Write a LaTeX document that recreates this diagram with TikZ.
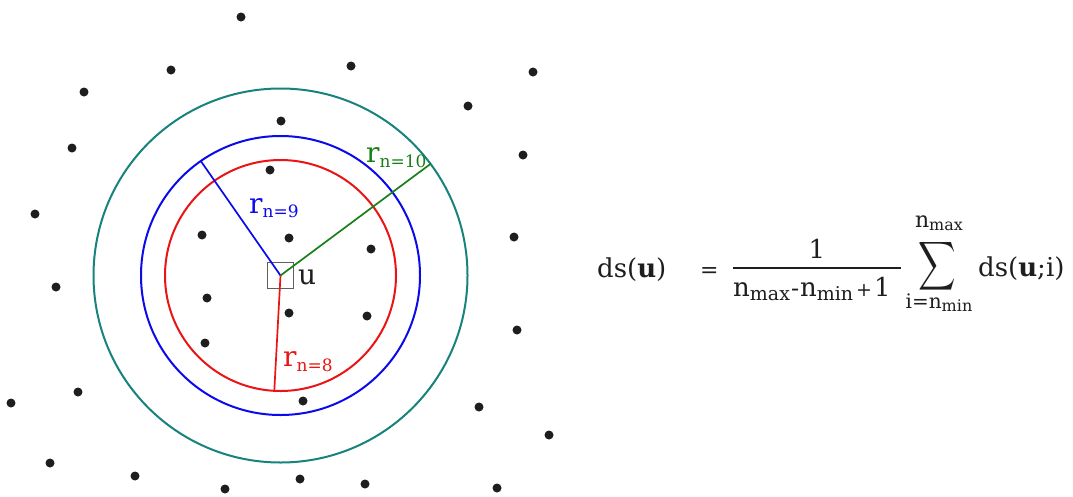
\documentclass[tikz,border=0pt]{standalone}
\usepackage{fontspec}
\usepackage{graphicx}
\setmainfont{DejaVu Serif}
\definecolor{tealc}{RGB}{24,130,125}
\definecolor{bluec}{RGB}{10,10,235}
\definecolor{redc}{RGB}{235,20,20}
\definecolor{greenc}{RGB}{25,128,25}
\definecolor{ink}{RGB}{30,30,30}
\definecolor{sqgray}{RGB}{95,95,95}
\newcommand{\fs}[1]{\fontsize{#1}{#1}\selectfont}
\newcommand{\lsub}[3][16]{\raisebox{-#2pt}{\fs{#1}#3}}
\begin{document}
\begin{tikzpicture}[x=1pt,y=-1pt,
  ring/.style={line width=2pt},
  rad/.style={line width=1.7pt},
  lbl/.style={anchor=base west,inner sep=0pt,text=#1},
  ftxt/.style={anchor=base west,inner sep=0pt,text=ink,font=\fs{26}},
  ctxt/.style={anchor=base,inner sep=0pt,text=ink}]
\useasboundingbox[fill=white] (0,0) rectangle (1073,496);
\coordinate (c) at (280.5,275.5);
% dots
\foreach \x/\y in {241/17,171/70,351/66,533/72,84/92,468/106,281/121,72/148,523/155,270/170,
  35/214,202/235,289/238,514/237,371/249,56/287,207/298,289/313,367/316,517/330,205/343,
  78/392,11/403,303/401,479/407,549/435,50/463,135/476,300/479,365/484,225/489,497/488}
  \fill[ink] (\x,\y) circle[radius=4.5pt];
% rings
\draw[ring,tealc] (c) circle[radius=187pt];
\draw[ring,bluec] (c) circle[radius=139.5pt];
\draw[ring,redc] (c) circle[radius=115.5pt];
% square
\node[draw=sqgray,line width=1.1pt,minimum size=26pt,inner sep=0pt] (sq) at (c) {};
% radii
\coordinate (b9) at (200.8,161);
\coordinate (g10) at (430.4,164);
\coordinate (r8) at (274.3,390.7);
\draw[rad,bluec] (c) -- (b9);
\draw[rad,greenc] (c) -- (g10);
\draw[rad,redc] (c) -- (r8);
% labels
\node[lbl=bluec,font=\fs{28}] (l9) at (249,213.3) {r\lsub[17]{4}{n=9}};
\node[lbl=greenc,font=\fs{28}] (l10) at (366,162) {r\lsub[17]{5}{n=10}};
\node[lbl=redc,font=\fs{28}] (l8) at (283,366) {r\lsub[17]{5}{n=8}};
\node[lbl=ink,font=\fs{28}] (u) at (298,284) {u};
% formula
\node[ftxt] (lhs) at (597,277) {ds(\textbf{u})};
\node[ftxt,font=\fs{22}] (eq) at (700,277) {=};
\node[ctxt,font=\fs{26}] (num) at (817,258) {1};
\coordinate (fl) at (733,268);
\coordinate (fr) at (901,268);
\draw[ink,line width=1.2pt] (fl) -- (fr);
\node[ftxt] (den) at (733,296) {n\lsub[19]{4}{max}\hspace{1pt}{\fs{24}-}\hspace{1pt}n\lsub[19]{4}{min}\hspace{3pt}{\fs{19}+}\hspace{2pt}1};
\node[inner sep=0pt,text=ink] (sum) at (937,266) {\scalebox{2.6}[3.4]{\fs{10}$\displaystyle\sum$}};
\node[ctxt,font=\fs{22}] (ntop) at (939,227) {n\lsub{3}{max}};
\node[ctxt,font=\fs{20}] (nbot) at (939,308) {i=n\lsub{3}{min}};
\node[ftxt] (rhs) at (978,276) {ds(\textbf{u};i)};
\end{tikzpicture}
\end{document}
